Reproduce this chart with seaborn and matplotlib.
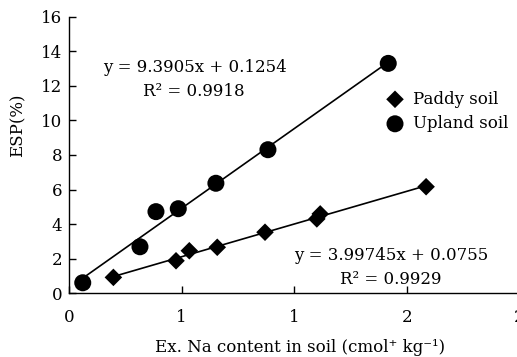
import numpy as np
import pandas as pd
import matplotlib
matplotlib.use("Agg")
import matplotlib.pyplot as plt
import seaborn as sns

# ---- data ----
paddy_x = [0.197, 0.475, 0.534, 0.658, 0.870, 1.100, 1.115, 1.585]
paddy_y = [0.92, 1.88, 2.46, 2.66, 3.53, 4.30, 4.59, 6.16]
upland_x = [0.061, 0.315, 0.386, 0.485, 0.652, 0.883, 1.417]
upland_y = [0.61, 2.69, 4.72, 4.89, 6.36, 8.30, 13.29]
series_names = ["Paddy soil", "Upland soil"]
eq_upland = ["y = 9.3905x + 0.1254", "R\u00b2 = 0.9918"]
eq_paddy = ["y = 3.99745x + 0.0755", "R\u00b2 = 0.9929"]
x_ticks = [0, 0.5, 1.0, 1.5, 2.0]
x_ticklabels = ["0", "1", "1", "2", "2"]
y_ticks = [0, 2, 4, 6, 8, 10, 12, 14, 16]
x_label = "Ex. Na content in soil (cmol\u207a kg\u207b\u00b9)"
y_label = "ESP(%)"

paddy = pd.DataFrame({"x": paddy_x, "y": paddy_y})
upland = pd.DataFrame({"x": upland_x, "y": upland_y})

sns.set_style("ticks")
FAM = ["DejaVu Serif", "Liberation Serif"]
plt.rcParams["font.family"] = FAM
FS = 12
plt.rcParams.update({"font.size": FS, "text.color": "black",
                     "axes.labelcolor": "black", "xtick.color": "black",
                     "ytick.color": "black", "axes.edgecolor": "black"})

W, H = 517, 357
fig = plt.figure(figsize=(W / 100, H / 100), dpi=100)
L, R, T, B = 69, 519.6, 16.5, 293.3
ax = fig.add_axes([L / W, 1 - B / H, (R - L) / W, (B - T) / H])

def axfrac(px, py):
    return (px - L) / (R - L), (B - py) / (B - T)

sns.regplot(data=paddy, x="x", y="y", ax=ax, ci=None, truncate=True,
            marker="D", color="black", label=series_names[0],
            scatter_kws=dict(s=80, edgecolor="none", alpha=1, zorder=3),
            line_kws=dict(lw=1.2, zorder=2))
sns.regplot(data=upland, x="x", y="y", ax=ax, ci=None, truncate=True,
            marker="o", color="black", label=series_names[1],
            scatter_kws=dict(s=150, edgecolor="none", alpha=1, zorder=3),
            line_kws=dict(lw=1.2, zorder=2))

ax.set_xlim(0, 2.0)
ax.set_ylim(0, 16)
ax.set_xticks(x_ticks)
ax.set_xticklabels(x_ticklabels)
ax.set_yticks(y_ticks)
ax.tick_params(axis="both", direction="in", length=5, width=1, colors="black",
               labelsize=FS)
ax.tick_params(axis="x", pad=11)
ax.tick_params(axis="y", pad=5)
for s in ["top", "right"]:
    ax.spines[s].set_visible(False)
for s in ["left", "bottom"]:
    ax.spines[s].set_linewidth(1.0)
    ax.spines[s].set_color("black")

ax.set_xlabel(x_label, fontsize=FS, va="center", ha="center", color="black")
ax.xaxis.set_label_coords(*axfrac(300, 347))
ax.set_ylabel(y_label, fontsize=FS, va="center", ha="center", color="black")
ax.yaxis.set_label_coords(*axfrac(18, 125))

for txt, (px, py) in zip(eq_upland, [(195, 67), (194, 92)]):
    ax.text(*axfrac(px, py), txt, transform=ax.transAxes, ha="center",
            va="center", fontsize=FS, color="black")
for txt, (px, py) in zip(eq_paddy, [(391, 255), (391, 280)]):
    ax.text(*axfrac(px, py), txt, transform=ax.transAxes, ha="center",
            va="center", fontsize=FS, color="black")

leg = ax.legend(loc="upper left", bbox_to_anchor=axfrac(380, 84), borderaxespad=0,
                frameon=False, handlelength=1.0, handletextpad=0.55,
                labelspacing=0.45, fontsize=FS, borderpad=0.4)
for t in leg.get_texts():
    t.set_color("black")

fig.savefig("out.png", dpi=100)
